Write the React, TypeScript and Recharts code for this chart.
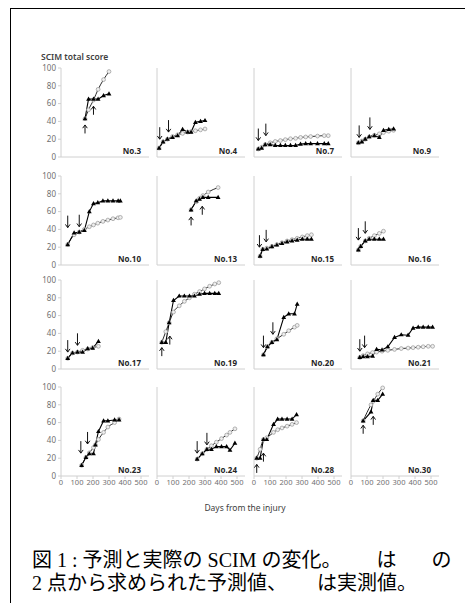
import React from 'react';
import { LineChart, Line, XAxis, YAxis, ReferenceDot } from 'recharts';

// days from the injury, actual SCIM (triangles) and predicted SCIM (circles) per patient
const days3 = [150, 172, 203, 232, 266, 300];
const actual3 = [43, 65, 65, 65, 69, 71];
const pred3 = [43, 53, 64, 76, 87, 96];

const days4 = [13, 38, 65, 97, 129, 160, 192, 213, 240, 272, 300];
const actual4 = [10, 17, 20, 22, 24, 31, 28, 28, 39, 40, 41];
const pred4 = [10, 17, 20, 23, 25, 26.5, 28, 28.5, 29.5, 30.5, 31.5];

const days7 = [27, 48, 70, 101, 133, 165, 196, 228, 260, 291, 323, 354, 397, 439, 464];
const actual7 = [9, 10, 14, 14, 13, 13, 13, 13, 13, 14.5, 15, 15, 15, 15, 15];
const pred7 = [9, 11, 14, 16, 17.5, 18.5, 19.5, 20.5, 21, 22, 22.5, 23, 23.5, 24, 24];

const days9 = [46, 68, 89, 114, 146, 177, 203, 236, 266];
const actual9 = [16, 17, 20, 23, 24, 22, 30, 31, 31.5];
const pred9 = [16, 18, 20, 22.5, 24.5, 26, 27.5, 29, 30];

const days10 = [42, 82, 114, 146, 177, 203, 230, 262, 293, 325, 357, 371];
const actual10 = [23, 36, 37, 39, 60, 69, 70, 72, 72, 72, 72, 72];
const pred10 = [23, 34, 37, 40, 43, 45, 47, 49, 50.5, 52, 53, 53.5];

const days13 = [213, 245, 266, 287, 320, 382];
const actual13 = [62, 72, 74, 76, 76, 76];
const pred13 = [62, 71, 75, 78, 82, 87];

const days15 = [38, 55, 80, 112, 143, 175, 207, 238, 270, 302, 333, 359];
const actual15 = [10, 17.6, 18, 20.6, 22.5, 24.3, 26, 27, 28, 29, 29, 29];
const pred15 = [10, 17.6, 19, 21, 23, 25, 27, 28.5, 30, 31.5, 33, 34];

const days16 = [46, 61, 89, 114, 146, 177, 203];
const actual16 = [17, 21, 27, 29, 29, 29, 29];
const pred16 = [17, 21, 27, 30, 33, 35.5, 38];

const days17 = [42, 72, 103, 135, 167, 198, 234];
const actual17 = [12, 18, 19, 19, 23, 23.5, 31];
const pred17 = [12, 18, 19, 21, 22.5, 24, 25.5];

const days19 = [30, 55, 76, 103, 139, 171, 203, 234, 266, 297, 329, 361, 386];
const actual19 = [30, 30, 52, 77, 82, 82, 82, 82, 84, 85, 85, 85, 85];
const pred19 = [30, 42, 52, 64, 71, 76, 80, 84, 87, 90, 93, 95.5, 97];

const days20 = [59, 84, 112, 143, 186, 217, 253, 270];
const actual20 = [16, 25, 30, 33, 58, 62, 62, 73];
const pred20 = [16, 25, 30, 34, 39, 43, 47, 49];

const days21 = [55, 76, 103, 135, 160, 194, 230, 272, 314, 357, 388, 420, 451, 483, 510];
const actual21 = [13, 14, 14, 14.5, 22, 21.5, 25, 35.5, 38.5, 38, 46, 47, 47, 47, 47];
const pred21 = [13, 15, 17, 18.5, 19, 20, 21, 22, 23, 23.5, 24, 24.5, 25, 25.5, 25.5];

const days23 = [129, 156, 177, 203, 215, 234, 266, 293, 335, 363];
const actual23 = [12, 21, 25, 25, 35, 50, 62, 62, 63, 63];
const pred23 = [12, 21, 26, 32, 35, 41, 49, 55, 60, 64];

const days24 = [251, 283, 312, 340, 371, 403, 435, 456, 487];
const actual24 = [19, 25, 30, 30, 33, 33, 33, 29, 37];
const pred24 = [19, 25, 30, 34, 38, 42, 46, 49, 53];

const days28 = [17, 38, 59, 80, 122, 148, 175, 207, 238, 266];
const actual28 = [20, 20, 41, 41, 58, 64, 64, 64, 64, 69];
const pred28 = [20, 30, 41, 43, 49, 52, 54, 56, 58, 60];

const days30 = [76, 125, 139, 167, 198];
const actual30 = [62, 72, 85, 85, 92];
const pred30 = [62, 80, 84, 92, 99];

// arrows mark the two measurements used for the prediction (day, arrow tip score)
const arrowDays = [
  [150, 203], [17, 72], [27, 74], [51, 118],
  [42, 114], [213, 283], [34, 76], [46, 89],
  [42, 103], [30, 80], [59, 118], [55, 85],
  [124, 166], [251, 312], [17, 59], [76, 139],
];
const arrowTips = [
  [36, 57], [20, 28], [18.5, 24], [22, 31],
  [42, 43], [54, 66], [20, 26], [28, 35.6],
  [19, 26.6], [24, 37], [24, 39], [20, 24],
  [25.7, 36], [25.7, 35], [13, 25.7], [57, 67],
];
const arrowDirs = [
  'up', 'down', 'down', 'down',
  'down', 'up', 'down', 'down',
  'down', 'up', 'down', 'down',
  'down', 'down', 'up', 'up',
];

const panelNames = [
  'No.3', 'No.4', 'No.7', 'No.9',
  'No.10', 'No.13', 'No.15', 'No.16',
  'No.17', 'No.19', 'No.20', 'No.21',
  'No.23', 'No.24', 'No.28', 'No.30',
];
const panelSeries = [
  [days3, actual3, pred3], [days4, actual4, pred4], [days7, actual7, pred7], [days9, actual9, pred9],
  [days10, actual10, pred10], [days13, actual13, pred13], [days15, actual15, pred15], [days16, actual16, pred16],
  [days17, actual17, pred17], [days19, actual19, pred19], [days20, actual20, pred20], [days21, actual21, pred21],
  [days23, actual23, pred23], [days24, actual24, pred24], [days28, actual28, pred28], [days30, actual30, pred30],
];

const xTicks = [0, 100, 200, 300, 400, 500];
const yTicks = [0, 20, 40, 60, 80, 100];

// layout of the 4x4 grid (plot area origin per column / row)
const colX = [61, 157, 254, 351];
const rowTop = [68, 176, 280, 387];
const PLOT_W = 88;
const PLOT_H = 89;
const Y_W = 30;
const M_TOP = 10;

const axisGray = '#d0d0d0';
const labelGray = '#707070';
const font = "'Noto Sans', 'Open Sans', sans-serif";

const Triangle = (props: any) => {
  const { cx, cy, index } = props;
  if (cx == null || cy == null) return <g key={index} />;
  return (
    <path
      key={index}
      d={`M${cx},${cy - 2.6}L${cx + 2.4},${cy + 1.6}L${cx - 2.4},${cy + 1.6}Z`}
      fill="#000"
    />
  );
};

const arrowShape = (dir: string) => (props: any) => {
  const { cx, cy } = props;
  const s = dir === 'up' ? 1 : -1;
  const len = dir === 'up' ? 8.5 : 12;
  return (
    <g stroke="#111" strokeWidth={1} fill="none">
      <line x1={cx} y1={cy} x2={cx} y2={cy + s * len} />
      <polyline points={`${cx - 2.3},${cy + s * 3.2} ${cx},${cy} ${cx + 2.3},${cy + s * 3.2}`} />
    </g>
  );
};

function Panel({ idx }: { idx: number }) {
  const row = Math.floor(idx / 4);
  const col = idx % 4;
  const [days, actual, pred] = panelSeries[idx];
  const data = days.map((d, i) => ({ day: d, actual: actual[i], pred: pred[i] }));
  const showY = col === 0;
  const showX = row === 3;
  const dir = arrowDirs[idx];

  return (
    <div style={{ position: 'absolute', left: colX[col] - Y_W, top: rowTop[row] - M_TOP }}>
      <LineChart
        width={Y_W + PLOT_W + 10}
        height={M_TOP + PLOT_H + 20}
        data={data}
        margin={{ top: M_TOP, right: 10, bottom: 0, left: 0 }}
      >
        <XAxis
          dataKey="day"
          type="number"
          domain={[0, 550]}
          ticks={xTicks}
          interval={0}
          height={20}
          tickSize={3}
          tickMargin={1}
          stroke={axisGray}
          tick={showX ? { fill: labelGray, fontSize: 7.5, fontFamily: font } : false}
        />
        <YAxis
          type="number"
          domain={[0, 100]}
          ticks={yTicks}
          interval={0}
          width={Y_W}
          tickSize={3}
          tickMargin={2}
          stroke={axisGray}
          tick={showY ? { fill: labelGray, fontSize: 8, fontFamily: font } : false}
        />
        <Line
          dataKey="pred"
          type="monotone"
          stroke="#2a2a2a"
          strokeWidth={1}
          dot={{ r: 1.9, fill: '#eeeeee', stroke: '#a0a0a0', strokeWidth: 0.8 }}
          isAnimationActive={false}
        />
        <Line
          dataKey="actual"
          type="linear"
          stroke="#000"
          strokeWidth={1.1}
          dot={Triangle}
          isAnimationActive={false}
        />
        {arrowDays[idx].map((d, i) => (
          <ReferenceDot key={i} x={d} y={arrowTips[idx][i]} r={3} shape={arrowShape(dir)} />
        ))}
      </LineChart>
      <div
        style={{
          position: 'absolute',
          left: Y_W + 40,
          width: 40,
          top: M_TOP + PLOT_H - 11,
          textAlign: 'right',
          fontFamily: font,
          fontWeight: 700,
          fontSize: 8,
          lineHeight: '10px',
          color: '#262626',
        }}
      >
        {panelNames[idx]}
      </div>
    </div>
  );
}

export default function App() {
  return (
    <div
      style={{
        position: 'absolute',
        left: 0,
        top: 0,
        width: 465,
        height: 603,
        overflow: 'hidden',
        background: '#fff',
      }}
    >
      <div
        style={{
          position: 'absolute',
          left: 10,
          top: 8,
          width: 470,
          height: 620,
          borderTop: '1.5px solid #000',
          borderLeft: '1.5px solid #000',
        }}
      />
      <div
        style={{
          position: 'absolute',
          left: 41,
          top: 51,
          fontFamily: font,
          fontWeight: 600,
          fontSize: 8.5,
          color: '#404040',
          whiteSpace: 'nowrap',
        }}
      >
        SCIM total score
      </div>
      {panelNames.map((_, i) => (
        <Panel key={i} idx={i} />
      ))}
      <div
        style={{
          position: 'absolute',
          left: 145,
          width: 200,
          top: 502,
          textAlign: 'center',
          fontFamily: font,
          fontSize: 8.5,
          color: '#404040',
        }}
      >
        Days from the injury
      </div>
      <div
        style={{
          position: 'absolute',
          left: 32,
          top: 549,
          fontFamily: "'Liberation Serif', 'Noto Sans CJK JP', serif",
          fontSize: 20,
          lineHeight: '23px',
          color: '#000',
          whiteSpace: 'pre',
        }}
      >
        {'図 1 : 予測と実際の SCIM の変化。\u3000\u3000 は\u3000   の'}
        <br />
        {'2 点から求められた予測値、\u3000\u3000は実測値。'}
      </div>
    </div>
  );
}
